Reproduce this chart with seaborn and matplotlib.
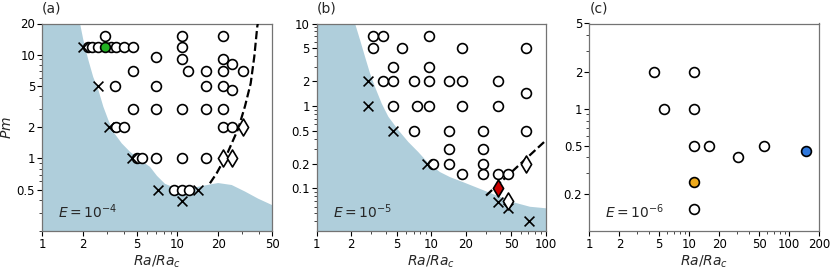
import numpy as np
import pandas as pd
import matplotlib
matplotlib.use("Agg")
import matplotlib.pyplot as plt
import matplotlib.ticker as mticker
import seaborn as sns

sns.set_style("ticks")
plt.rcParams['font.family'] = ['DejaVu Sans']
plt.rcParams['mathtext.fontset'] = 'dejavusans'

# ---------------- Panel (a): E = 1e-4 ----------------
a_circ_x = [2.9, 10.8, 21.8,
            2.2, 2.35, 2.6, 3.25, 3.55, 4.0, 4.7, 10.8,
            7.0, 10.8, 21.8, 25.4,
            4.7, 12.0, 16.3, 21.8, 30.7,
            3.46, 7.0, 16.3, 21.8, 25.4,
            4.7, 7.0, 10.8, 16.3, 21.8,
            3.5, 4.05, 21.8, 25.4,
            5.0, 5.45, 7.0, 10.8, 16.3,
            9.5, 10.8, 12.2]
a_circ_y = [15, 15, 15,
            12, 12, 12, 12, 12, 12, 12, 12,
            9.6, 9.0, 9.0, 8.2,
            7, 7, 7, 7, 7,
            5, 5, 5, 5, 4.6,
            3, 3, 3, 3, 3,
            2, 2, 2, 2,
            1, 1, 1, 1, 1,
            0.5, 0.5, 0.5]
a_cross_x = [2.0, 2.6, 3.12, 4.62, 7.2, 14.3, 10.8]
a_cross_y = [12, 5, 2, 1, 0.5, 0.5, 0.39]
a_diam_x = [30.5, 21.8, 25.3]
a_diam_y = [2, 1, 1]
a_green_x = [2.9]
a_green_y = [12]
a_dash_x = [17.4, 19.5, 23.1, 28.2, 31.6, 34.8, 37.0, 38.9, 39.3]
a_dash_y = [0.577, 0.72, 1.08, 1.95, 3.2, 5.3, 9.6, 18.6, 20]
a_blue_x = [1.0, 1.88, 1.91, 2.02, 2.2, 2.39, 2.61, 2.84, 3.09, 3.36, 3.88,
            4.47, 5.3, 6.28, 7.07, 8.1, 9.6, 12.0, 16.0, 20.0, 25.2, 31.6, 39.5, 50.0]
a_blue_y = [30, 30, 20, 13.9, 8.9, 6.1, 4.57, 3.15, 2.35, 1.81, 1.40,
            1.16, 0.97, 0.83, 0.68, 0.57, 0.52, 0.51, 0.55, 0.58, 0.555, 0.48, 0.41, 0.356]

# ---------------- Panel (b): E = 1e-5 ----------------
b_circ_x = [3.12, 3.76, 9.6,
            3.12, 5.6, 18.5, 67,
            4.66, 9.6,
            3.76, 4.66, 7.06, 9.6, 14.2, 18.5, 37.9,
            67,
            4.66, 7.45, 9.6, 18.5, 37.9,
            7.06, 14.2, 28.4, 67,
            14.2, 28.4,
            10.4, 14.2, 28.4,
            18.5, 28.4, 37.9, 46.3]
b_circ_y = [7, 7, 7,
            5, 5, 5, 5,
            3, 3,
            2, 2, 2, 2, 2, 2, 2,
            1.45,
            1, 1, 1, 1, 1,
            0.5, 0.5, 0.5, 0.5,
            0.3, 0.3,
            0.2, 0.2, 0.2,
            0.15, 0.15, 0.15, 0.15]
b_cross_x = [2.78, 2.78, 4.66, 9.2, 37.9, 46.9, 71.6]
b_cross_y = [2, 1, 0.5, 0.2, 0.068, 0.058, 0.04]
b_diam_x = [67, 46.9]
b_diam_y = [0.2, 0.071]
b_red_x = [37.9]
b_red_y = [0.1]
b_dash_x = [30.0, 100.0]
b_dash_y = [0.082, 0.384]
b_blue_x = [1.0, 2.1, 2.16, 2.39, 2.64, 2.92, 3.22, 3.69, 4.22, 5.15, 6.3, 7.7,
            9.5, 11.9, 14.6, 19.0, 26.5, 37.2, 51.9, 72.5, 100.0]
b_blue_y = [20, 20, 10, 6.3, 3.95, 2.48, 1.71, 1.07, 0.74, 0.51, 0.366, 0.276,
            0.2, 0.158, 0.137, 0.119, 0.099, 0.082, 0.068, 0.060, 0.0575]

# ---------------- Panel (c): E = 1e-6 ----------------
c_circ_x = [4.47, 11.1, 5.6, 11.1, 11.1, 15.8, 30.9, 56.2, 11.1]
c_circ_y = [2, 2, 1, 1, 0.5, 0.5, 0.4, 0.5, 0.15]
c_orange_x = [11.1]
c_orange_y = [0.25]
c_blue_x = [147]
c_blue_y = [0.45]

# ---------------- ticks / labels ----------------
a_xticks = [1, 2, 5, 10, 20, 50]
a_yticks = [0.5, 1, 2, 5, 10, 20]
b_xticks = [1, 2, 5, 10, 20, 50, 100]
b_yticks = [0.1, 0.2, 0.5, 1, 2, 5, 10]
c_xticks = [1, 2, 5, 10, 20, 50, 100, 200]
c_yticks = [0.2, 0.5, 1, 2, 5]
panel_titles = ["(a)", "(b)", "(c)"]
e_labels = [r"$E=10^{-4}$", r"$E=10^{-5}$", r"$E=10^{-6}$"]

SHADE = "#afcedb"
MS = 50
LW = 1.2

fig = plt.figure(figsize=(8.31, 2.69), dpi=100)
W = 230 / 831
H = 207.5 / 269
B = (269 - 231) / 269
axa = fig.add_axes([42 / 831, B, W, H])
axb = fig.add_axes([316.7 / 831, B, 229.3 / 831, H])
axc = fig.add_axes([589.3 / 831, B, W, H])


def df(x, y):
    return pd.DataFrame({"x": x, "y": y})


def circles(ax, x, y, face="white"):
    sns.scatterplot(data=df(x, y), x="x", y="y", ax=ax, marker="o", s=MS,
                    facecolor=face, edgecolor="black", linewidth=LW, zorder=4, legend=False)


def crosses(ax, x, y):
    sns.scatterplot(data=df(x, y), x="x", y="y", ax=ax, marker="x", s=MS,
                    color="black", linewidth=LW, zorder=4, legend=False)


def diamonds(ax, x, y, face="white"):
    sns.scatterplot(data=df(x, y), x="x", y="y", ax=ax, marker="d", s=75,
                    facecolor=face, edgecolor="black", linewidth=LW, zorder=4, legend=False)


def dashed(ax, x, y):
    sns.lineplot(data=df(x, y), x="x", y="y", ax=ax, sort=False, estimator=None,
                 color="black", linestyle="--", linewidth=1.6, zorder=3, legend=False)


def setup(ax, xlim, ylim, xt, yt, title, elab):
    ax.set_xscale("log")
    ax.set_yscale("log")
    ax.set_xlim(*xlim)
    ax.set_ylim(*ylim)
    fmt = mticker.FuncFormatter(lambda v, p: "%g" % v)
    ax.xaxis.set_major_locator(mticker.FixedLocator(xt))
    ax.yaxis.set_major_locator(mticker.FixedLocator(yt))
    ax.xaxis.set_major_formatter(fmt)
    ax.yaxis.set_major_formatter(fmt)
    ax.xaxis.set_minor_locator(mticker.LogLocator(base=10, subs=np.arange(2, 10)))
    ax.yaxis.set_minor_locator(mticker.LogLocator(base=10, subs=np.arange(2, 10)))
    ax.xaxis.set_minor_formatter(mticker.NullFormatter())
    ax.yaxis.set_minor_formatter(mticker.NullFormatter())
    ax.tick_params(axis="both", which="major", labelsize=8.5, length=3.5, width=0.8,
                   direction="out", pad=1.5, colors="black")
    ax.tick_params(axis="both", which="minor", length=2, width=0.6, direction="out")
    for s in ax.spines.values():
        s.set_color("0.45")
        s.set_linewidth(0.9)
    ax.set_xlabel(r"$Ra/Ra_c$", fontsize=10, labelpad=2)
    ax.set_ylabel("")
    ax.set_title(title, loc="left", fontsize=10, pad=8)
    ax.text(0.07, 0.065, elab, transform=ax.transAxes, fontsize=10, zorder=6)


# Panel (a)
axa.fill_between(a_blue_x, 0.01, a_blue_y, color=SHADE, linewidth=0, zorder=1)
dashed(axa, a_dash_x, a_dash_y)
circles(axa, a_circ_x, a_circ_y)
crosses(axa, a_cross_x, a_cross_y)
diamonds(axa, a_diam_x, a_diam_y)
circles(axa, a_green_x, a_green_y, face="#22b022")
setup(axa, (1, 50), (0.2, 20), a_xticks, a_yticks, panel_titles[0], e_labels[0])
axa.set_ylabel(r"$Pm$", fontsize=10, labelpad=2)

# Panel (b)
axb.fill_between(b_blue_x, 0.001, b_blue_y, color=SHADE, linewidth=0, zorder=1)
dashed(axb, b_dash_x, b_dash_y)
circles(axb, b_circ_x, b_circ_y)
crosses(axb, b_cross_x, b_cross_y)
diamonds(axb, b_diam_x, b_diam_y)
diamonds(axb, b_red_x, b_red_y, face="#cc0000")
setup(axb, (1, 100), (0.0305, 10), b_xticks, b_yticks, panel_titles[1], e_labels[1])

# Panel (c)
circles(axc, c_circ_x, c_circ_y)
circles(axc, c_orange_x, c_orange_y, face="#eeaa1c")
circles(axc, c_blue_x, c_blue_y, face="#2f78dd")
setup(axc, (1, 200), (0.1, 5), c_xticks, c_yticks, panel_titles[2], e_labels[2])

fig.savefig("out.png", dpi=100)
